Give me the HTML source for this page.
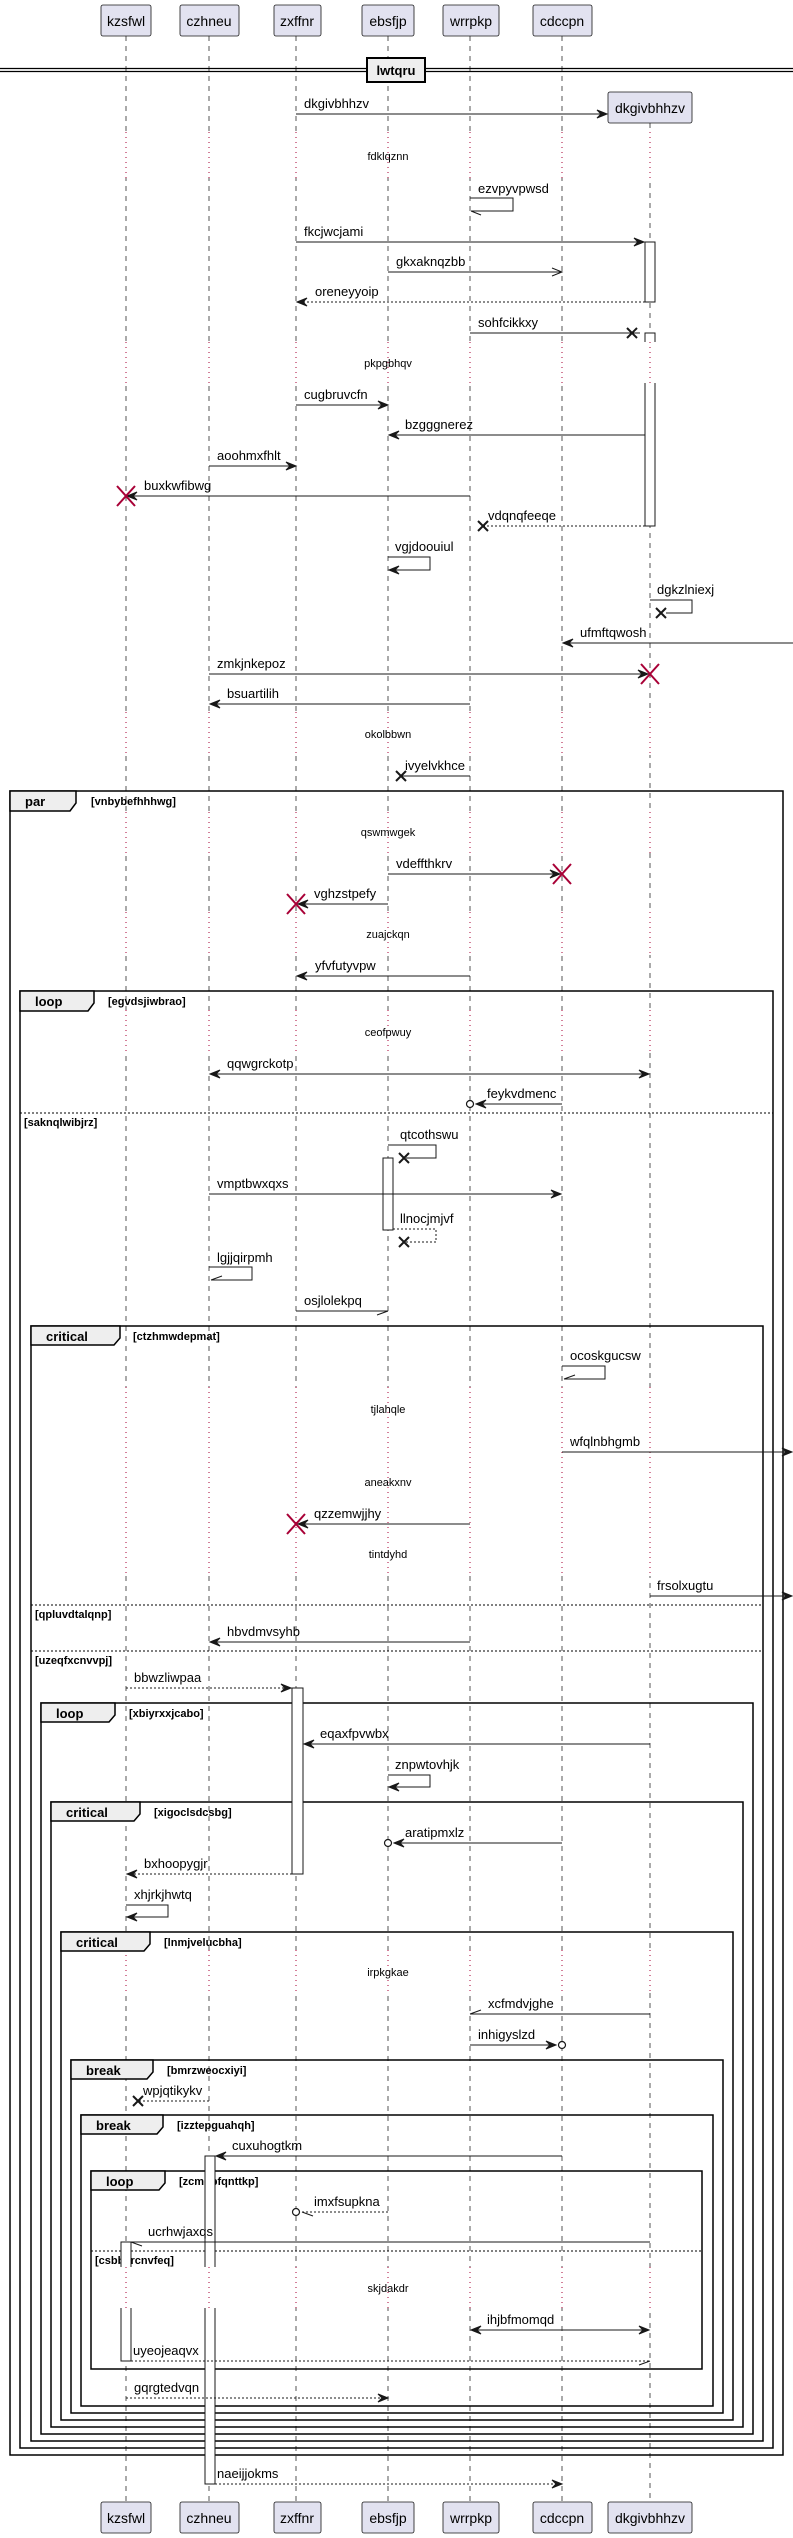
<!DOCTYPE html>
<html><head><meta charset="utf-8"><style>
html,body{margin:0;padding:0;background:#fff;}
svg{display:block;}
text{font-family:"Liberation Sans",sans-serif;fill:#000;}
.m{font-size:13px;}
.d{font-size:11px;text-anchor:middle;}
.h{font-size:14px;text-anchor:middle;}
.t{font-size:13px;font-weight:bold;}
.c{font-size:11px;font-weight:bold;}
.ll{stroke:#555;stroke-width:1;stroke-dasharray:5,5;fill:none;}
.dl{stroke:#A80036;stroke-width:1;stroke-dasharray:1,4;fill:none;}
.ln{stroke:#181818;stroke-width:1;fill:none;}
.dn{stroke:#181818;stroke-width:1;fill:none;stroke-dasharray:2,2;}
.ah{fill:#181818;stroke:#181818;stroke-width:1;}
.op{stroke:#181818;stroke-width:1;fill:none;}
.x{stroke:#181818;stroke-width:2;fill:none;}
.rx{stroke:#A80036;stroke-width:2;fill:none;}
.fr{stroke:#000;stroke-width:1.5;fill:none;}
.tab{stroke:#000;stroke-width:1.5;fill:#EEEEEE;}
.sep{stroke:#000;stroke-width:1;stroke-dasharray:2,2;}
.act{fill:#fff;stroke:#181818;stroke-width:1;}
.hd{fill:#E2E2F0;stroke:#181818;stroke-width:0.8;}
</style></head><body>
<svg width="793" height="2538" viewBox="0 0 793 2538" xmlns="http://www.w3.org/2000/svg">
<!-- lifelines -->
<g>
<line class="ll" x1="126" y1="36" x2="126" y2="2502"/>
<line class="ll" x1="209" y1="36" x2="209" y2="2502"/>
<line class="ll" x1="296" y1="36" x2="296" y2="2502"/>
<line class="ll" x1="388" y1="36" x2="388" y2="2502"/>
<line class="ll" x1="470" y1="36" x2="470" y2="2502"/>
<line class="ll" x1="562" y1="36" x2="562" y2="2502"/>
<line class="ll" x1="650" y1="123" x2="650" y2="2502"/>
</g>
<!-- delay regions (cover dashed with white then dotted) -->
<g>
<rect x="120" y="132" width="540" height="46" fill="#fff"/>
<rect x="120" y="342" width="540" height="41" fill="#fff"/>
<rect x="120" y="712" width="540" height="43" fill="#fff"/>
<rect x="120" y="812" width="540" height="41" fill="#fff"/>
<rect x="120" y="912" width="540" height="43" fill="#fff"/>
<rect x="120" y="1010" width="540" height="42" fill="#fff"/>
<rect x="120" y="1387" width="540" height="189" fill="#fff"/>
<rect x="120" y="1950" width="540" height="43" fill="#fff"/>
<rect x="120" y="2267" width="540" height="41" fill="#fff"/>
</g>
<g id="dots">
<path class="dl" d="M126,132V178M209,132V178M296,132V178M388,132V178M470,132V178M562,132V178M650,132V178"/>
<path class="dl" d="M126,342V383M209,342V383M296,342V383M388,342V383M470,342V383M562,342V383M650,342V383"/>
<path class="dl" d="M126,712V755M209,712V755M296,712V755M388,712V755M470,712V755M562,712V755M650,712V755"/>
<path class="dl" d="M126,812V853M209,812V853M296,812V853M388,812V853M470,812V853M562,812V853M650,812V853"/>
<path class="dl" d="M126,912V955M209,912V955M296,912V955M388,912V955M470,912V955M562,912V955M650,912V955"/>
<path class="dl" d="M126,1010V1052M209,1010V1052M296,1010V1052M388,1010V1052M470,1010V1052M562,1010V1052M650,1010V1052"/>
<path class="dl" d="M126,1387V1576M209,1387V1576M296,1387V1576M388,1387V1576M470,1387V1576M562,1387V1576M650,1387V1576"/>
<path class="dl" d="M126,1950V1993M209,1950V1993M296,1950V1993M388,1950V1993M470,1950V1993M562,1950V1993M650,1950V1993"/>
<path class="dl" d="M126,2267V2308M209,2267V2308M296,2267V2308M388,2267V2308M470,2267V2308M562,2267V2308M650,2267V2308"/>
</g>
<!-- heads -->
<g>
<rect class="hd" x="101" y="5" width="50" height="31" rx="2"/><text class="h" x="126" y="26">kzsfwl</text>
<rect class="hd" x="180" y="5" width="59" height="31" rx="2"/><text class="h" x="209" y="26">czhneu</text>
<rect class="hd" x="274" y="5" width="47" height="31" rx="2"/><text class="h" x="297" y="26">zxffnr</text>
<rect class="hd" x="362" y="5" width="52" height="31" rx="2"/><text class="h" x="388" y="26">ebsfjp</text>
<rect class="hd" x="443" y="5" width="56" height="31" rx="2"/><text class="h" x="471" y="26">wrrpkp</text>
<rect class="hd" x="533" y="5" width="59" height="31" rx="2"/><text class="h" x="562" y="26">cdccpn</text>
<rect class="hd" x="608" y="92" width="84" height="31" rx="2"/><text class="h" x="650" y="113">dkgivbhhzv</text>
<rect class="hd" x="101" y="2502" width="50" height="31" rx="2"/><text class="h" x="126" y="2523">kzsfwl</text>
<rect class="hd" x="180" y="2502" width="59" height="31" rx="2"/><text class="h" x="209" y="2523">czhneu</text>
<rect class="hd" x="274" y="2502" width="47" height="31" rx="2"/><text class="h" x="297" y="2523">zxffnr</text>
<rect class="hd" x="362" y="2502" width="52" height="31" rx="2"/><text class="h" x="388" y="2523">ebsfjp</text>
<rect class="hd" x="443" y="2502" width="56" height="31" rx="2"/><text class="h" x="471" y="2523">wrrpkp</text>
<rect class="hd" x="533" y="2502" width="59" height="31" rx="2"/><text class="h" x="562" y="2523">cdccpn</text>
<rect class="hd" x="608" y="2502" width="84" height="31" rx="2"/><text class="h" x="650" y="2523">dkgivbhhzv</text>
</g>
<!-- divider -->
<line x1="0" y1="68.5" x2="793" y2="68.5" stroke="#000" stroke-width="1.2"/>
<line x1="0" y1="71.5" x2="793" y2="71.5" stroke="#000" stroke-width="1.2"/>
<rect x="367" y="58" width="58" height="24" fill="#EEEEEE" stroke="#000" stroke-width="2"/>
<text class="t" x="396" y="75" text-anchor="middle">lwtqru</text>

<!-- frames -->
<g>
<rect class="fr" x="10" y="791" width="773" height="1664"/>
<path class="tab" d="M10,791H76V803L70,811H10Z"/><text class="t" x="25" y="806">par</text><text class="c" x="91" y="805">[vnbybefhhhwg]</text>
<rect class="fr" x="20" y="991" width="753" height="1457"/>
<path class="tab" d="M20,991H94V1003L88,1011H20Z"/><text class="t" x="35" y="1006">loop</text><text class="c" x="108" y="1005">[egvdsjiwbrao]</text>
<line class="sep" x1="20" y1="1113" x2="773" y2="1113"/><text class="c" x="24" y="1126">[saknqlwibjrz]</text>
<rect class="fr" x="31" y="1326" width="732" height="1115"/>
<path class="tab" d="M31,1326H120V1338L114,1345H31Z"/><text class="t" x="46" y="1341">critical</text><text class="c" x="133" y="1340">[ctzhmwdepmat]</text>
<line class="sep" x1="31" y1="1605" x2="763" y2="1605"/><text class="c" x="35" y="1618">[qpluvdtalqnp]</text>
<line class="sep" x1="31" y1="1651" x2="763" y2="1651"/><text class="c" x="35" y="1664">[uzeqfxcnvvpj]</text>
<rect class="fr" x="41" y="1703" width="712" height="731"/>
<path class="tab" d="M41,1703H115V1715L109,1722H41Z"/><text class="t" x="56" y="1718">loop</text><text class="c" x="129" y="1717">[xbiyrxxjcabo]</text>
<rect class="fr" x="51" y="1802" width="692" height="625"/>
<path class="tab" d="M51,1802H140V1814L134,1821H51Z"/><text class="t" x="66" y="1817">critical</text><text class="c" x="154" y="1816">[xigoclsdcsbg]</text>
<rect class="fr" x="61" y="1932" width="672" height="488"/>
<path class="tab" d="M61,1932H150V1944L144,1951H61Z"/><text class="t" x="76" y="1947">critical</text><text class="c" x="164" y="1946">[lnmjvelucbha]</text>
<rect class="fr" x="71" y="2060" width="652" height="353"/>
<path class="tab" d="M71,2060H153V2072L147,2079H71Z"/><text class="t" x="86" y="2075">break</text><text class="c" x="167" y="2074">[bmrzweocxiyi]</text>
<rect class="fr" x="81" y="2115" width="632" height="291"/>
<path class="tab" d="M81,2115H163V2127L157,2134H81Z"/><text class="t" x="96" y="2130">break</text><text class="c" x="177" y="2129">[izztepguahqh]</text>
<rect class="fr" x="91" y="2171" width="611" height="198"/>
<path class="tab" d="M91,2171H165V2183L159,2190H91Z"/><text class="t" x="106" y="2186">loop</text><text class="c" x="179" y="2185">[zcmopfqnttkp]</text>
<line class="sep" x1="91" y1="2251" x2="702" y2="2251"/><text class="c" x="95" y="2264">[csbbvrcnvfeq]</text>
</g>

<!-- activations -->
<g>
<rect class="act" x="645" y="242" width="10" height="60"/>
<path class="act" d="M645,342V333H655V342"/>
<path class="act" d="M645,383V526H655V383"/>
<rect class="act" x="383" y="1158" width="10" height="72"/>
<rect class="act" x="292" y="1688" width="11" height="186"/>
<path class="act" d="M205,2267V2156H215V2267"/>
<path class="act" d="M205,2308V2484H215V2308"/>
<path class="act" d="M121,2267V2242H131V2267"/>
<path class="act" d="M121,2308V2361H131V2308"/>
</g>

<!-- delay texts -->
<g>
<text class="d" x="388" y="160">fdklqznn</text>
<text class="d" x="388" y="367">pkpgbhqv</text>
<text class="d" x="388" y="738">okolbbwn</text>
<text class="d" x="388" y="836">qswmwgek</text>
<text class="d" x="388" y="938">zuajckqn</text>
<text class="d" x="388" y="1036">ceofpwuy</text>
<text class="d" x="388" y="1413">tjlahqle</text>
<text class="d" x="388" y="1486">aneakxnv</text>
<text class="d" x="388" y="1558">tintdyhd</text>
<text class="d" x="388" y="1976">irpkgkae</text>
<text class="d" x="388" y="2292">skjdakdr</text>
</g>

<!-- messages -->
<g>
<line class="ln" x1="296" y1="114" x2="606" y2="114"/><polygon class="ah" points="607,114 597,110 601,114 597,118"/><text class="m" x="304" y="108">dkgivbhhzv</text>

<path class="ln" d="M470,198H513V211H471"/><line class="op" x1="471" y1="211" x2="481" y2="215"/><text class="m" x="478" y="193">ezvpyvpwsd</text>

<line class="ln" x1="296" y1="242" x2="644" y2="242"/><polygon class="ah" points="644,242 634,238 638,242 634,246"/><text class="m" x="304" y="236">fkcjwcjami</text>

<line class="ln" x1="388" y1="272" x2="562" y2="272"/><polyline class="op" points="552,268 562,272 552,276"/><text class="m" x="396" y="266">gkxaknqzbb</text>

<line class="dn" x1="645" y1="302" x2="297" y2="302"/><polygon class="ah" points="297,302 307,298 303,302 307,306"/><text class="m" x="315" y="296">oreneyyoip</text>

<line class="ln" x1="470" y1="333" x2="640" y2="333"/><path class="x" d="M627,328L637,338M637,328L627,338"/><text class="m" x="478" y="327">sohfcikkxy</text>

<line class="ln" x1="296" y1="405" x2="387" y2="405"/><polygon class="ah" points="388,405 378,401 382,405 378,409"/><text class="m" x="304" y="399">cugbruvcfn</text>

<line class="ln" x1="645" y1="435" x2="389" y2="435"/><polygon class="ah" points="389,435 399,431 395,435 399,439"/><text class="m" x="405" y="429">bzgggnerez</text>

<line class="ln" x1="209" y1="466" x2="295" y2="466"/><polygon class="ah" points="296,466 286,462 290,466 286,470"/><text class="m" x="217" y="460">aoohmxfhlt</text>

<line class="ln" x1="470" y1="496" x2="127" y2="496"/><polygon class="ah" points="127,496 137,492 133,496 137,500"/><path class="rx" d="M117,486L135,506M135,486L117,506"/><text class="m" x="144" y="490">buxkwfibwg</text>

<line class="dn" x1="645" y1="526" x2="482" y2="526"/><path class="x" d="M478,521L488,531M488,521L478,531"/><text class="m" x="488" y="520">vdqnqfeeqe</text>

<path class="ln" d="M388,557H430V570H389"/><polygon class="ah" points="389,570 399,566 395,570 399,574"/><text class="m" x="395" y="551">vgjdoouiul</text>

<path class="ln" d="M650,600H692V613H666"/><path class="x" d="M656,608L666,618M666,608L656,618"/><text class="m" x="657" y="594">dgkzlniexj</text>

<line class="ln" x1="793" y1="643" x2="563" y2="643"/><polygon class="ah" points="563,643 573,639 569,643 573,647"/><text class="m" x="580" y="637">ufmftqwosh</text>

<line class="ln" x1="209" y1="674" x2="648" y2="674"/><polygon class="ah" points="648,674 638,670 642,674 638,678"/><path class="rx" d="M641,664L659,684M659,664L641,684"/><text class="m" x="217" y="668">zmkjnkepoz</text>

<line class="ln" x1="470" y1="704" x2="210" y2="704"/><polygon class="ah" points="210,704 220,700 216,704 220,708"/><text class="m" x="227" y="698">bsuartilih</text>

<line class="ln" x1="470" y1="776" x2="400" y2="776"/><path class="x" d="M396,771L406,781M406,771L396,781"/><text class="m" x="405" y="770">ivyelvkhce</text>

<line class="ln" x1="388" y1="874" x2="560" y2="874"/><polygon class="ah" points="560,874 550,870 554,874 550,878"/><path class="rx" d="M553,864L571,884M571,864L553,884"/><text class="m" x="396" y="868">vdeffthkrv</text>

<line class="ln" x1="388" y1="904" x2="298" y2="904"/><polygon class="ah" points="298,904 308,900 304,904 308,908"/><path class="rx" d="M287,894L305,914M305,894L287,914"/><text class="m" x="314" y="898">vghzstpefy</text>

<line class="ln" x1="470" y1="976" x2="297" y2="976"/><polygon class="ah" points="297,976 307,972 303,976 307,980"/><text class="m" x="315" y="970">yfvfutyvpw</text>

<line class="ln" x1="210" y1="1074" x2="649" y2="1074"/><polygon class="ah" points="210,1074 220,1070 216,1074 220,1078"/><polygon class="ah" points="649,1074 639,1070 643,1074 639,1078"/><text class="m" x="227" y="1068">qqwgrckotp</text>

<line class="ln" x1="562" y1="1104" x2="476" y2="1104"/><polygon class="ah" points="476,1104 486,1100 482,1104 486,1108"/><circle cx="470" cy="1104" r="3.5" fill="#fff" stroke="#181818" stroke-width="1.2"/><text class="m" x="487" y="1098">feykvdmenc</text>

<path class="ln" d="M388,1145H436V1158H406"/><path class="x" d="M399,1153L409,1163M409,1153L399,1163"/><text class="m" x="400" y="1139">qtcothswu</text>

<line class="ln" x1="209" y1="1194" x2="561" y2="1194"/><polygon class="ah" points="561,1194 551,1190 555,1194 551,1198"/><text class="m" x="217" y="1188">vmptbwxqxs</text>

<path class="dn" d="M393,1229H436V1242H406"/><path class="x" d="M399,1237L409,1247M409,1237L399,1247"/><text class="m" x="400" y="1223">llnocjmjvf</text>

<path class="ln" d="M209,1267H252V1280H211"/><line class="op" x1="211" y1="1280" x2="222" y2="1276"/><text class="m" x="217" y="1262">lgjjqirpmh</text>

<line class="ln" x1="296" y1="1311" x2="388" y2="1311"/><line class="op" x1="388" y1="1311" x2="377" y2="1315"/><text class="m" x="304" y="1305">osjlolekpq</text>

<path class="ln" d="M562,1366H605V1379H564"/><line class="op" x1="564" y1="1379" x2="575" y2="1375"/><text class="m" x="570" y="1360">ocoskgucsw</text>

<line class="ln" x1="562" y1="1452" x2="792" y2="1452"/><polygon class="ah" points="792,1452 782,1448 786,1452 782,1456"/><text class="m" x="570" y="1446">wfqlnbhgmb</text>

<line class="ln" x1="470" y1="1524" x2="298" y2="1524"/><polygon class="ah" points="298,1524 308,1520 304,1524 308,1528"/><path class="rx" d="M287,1514L305,1534M305,1514L287,1534"/><text class="m" x="314" y="1518">qzzemwjjhy</text>

<line class="ln" x1="650" y1="1596" x2="792" y2="1596"/><polygon class="ah" points="792,1596 782,1592 786,1596 782,1600"/><text class="m" x="657" y="1590">frsolxugtu</text>

<line class="ln" x1="470" y1="1642" x2="210" y2="1642"/><polygon class="ah" points="210,1642 220,1638 216,1642 220,1646"/><text class="m" x="227" y="1636">hbvdmvsyhb</text>

<line class="dn" x1="126" y1="1688" x2="291" y2="1688"/><polygon class="ah" points="291,1688 281,1684 285,1688 281,1692"/><text class="m" x="134" y="1682">bbwzliwpaa</text>

<line class="ln" x1="650" y1="1744" x2="304" y2="1744"/><polygon class="ah" points="304,1744 314,1740 310,1744 314,1748"/><text class="m" x="320" y="1738">eqaxfpvwbx</text>

<path class="ln" d="M388,1775H430V1787H389"/><polygon class="ah" points="389,1787 399,1783 395,1787 399,1791"/><text class="m" x="395" y="1769">znpwtovhjk</text>

<line class="ln" x1="562" y1="1843" x2="394" y2="1843"/><polygon class="ah" points="394,1843 404,1839 400,1843 404,1847"/><circle cx="388" cy="1843" r="3.5" fill="#fff" stroke="#181818" stroke-width="1.2"/><text class="m" x="405" y="1837">aratipmxlz</text>

<line class="dn" x1="292" y1="1874" x2="127" y2="1874"/><polygon class="ah" points="127,1874 137,1870 133,1874 137,1878"/><text class="m" x="144" y="1868">bxhoopygjr</text>

<path class="ln" d="M126,1905H168V1917H127"/><polygon class="ah" points="127,1917 137,1913 133,1917 137,1921"/><text class="m" x="134" y="1899">xhjrkjhwtq</text>

<line class="ln" x1="650" y1="2014" x2="470" y2="2014"/><line class="op" x1="470" y1="2014" x2="481" y2="2010"/><text class="m" x="488" y="2008">xcfmdvjghe</text>

<line class="ln" x1="470" y1="2045" x2="556" y2="2045"/><polygon class="ah" points="556,2045 546,2041 550,2045 546,2049"/><circle cx="562" cy="2045" r="3.5" fill="#fff" stroke="#181818" stroke-width="1.2"/><text class="m" x="478" y="2039">inhigyslzd</text>

<line class="dn" x1="209" y1="2101" x2="138" y2="2101"/><path class="x" d="M133,2096L143,2106M143,2096L133,2106"/><text class="m" x="143" y="2095">wpjqtikykv</text>

<line class="ln" x1="562" y1="2156" x2="216" y2="2156"/><polygon class="ah" points="216,2156 226,2152 222,2156 226,2160"/><text class="m" x="232" y="2150">cuxuhogtkm</text>

<line class="dn" x1="388" y1="2212" x2="300" y2="2212"/><line class="op" x1="302" y1="2212" x2="313" y2="2216"/><circle cx="296" cy="2212" r="3.5" fill="#fff" stroke="#181818" stroke-width="1.2"/><text class="m" x="314" y="2206">imxfsupkna</text>

<line class="ln" x1="650" y1="2242" x2="131" y2="2242"/><line class="op" x1="131" y1="2242" x2="142" y2="2246"/><text class="m" x="148" y="2236">ucrhwjaxqs</text>

<line class="ln" x1="471" y1="2330" x2="649" y2="2330"/><polygon class="ah" points="471,2330 481,2326 477,2330 481,2334"/><polygon class="ah" points="649,2330 639,2326 643,2330 639,2334"/><text class="m" x="487" y="2324">ihjbfmomqd</text>

<line class="dn" x1="131" y1="2361" x2="650" y2="2361"/><line class="op" x1="650" y1="2361" x2="639" y2="2365"/><text class="m" x="133" y="2355">uyeojeaqvx</text>

<line class="dn" x1="126" y1="2398" x2="387" y2="2398"/><polygon class="ah" points="388,2398 378,2394 382,2398 378,2402"/><text class="m" x="134" y="2392">gqrgtedvqn</text>

<line class="dn" x1="215" y1="2484" x2="561" y2="2484"/><polygon class="ah" points="562,2484 552,2480 556,2484 552,2488"/><text class="m" x="217" y="2478">naeijjokms</text>
</g>
</svg>
</body></html>
